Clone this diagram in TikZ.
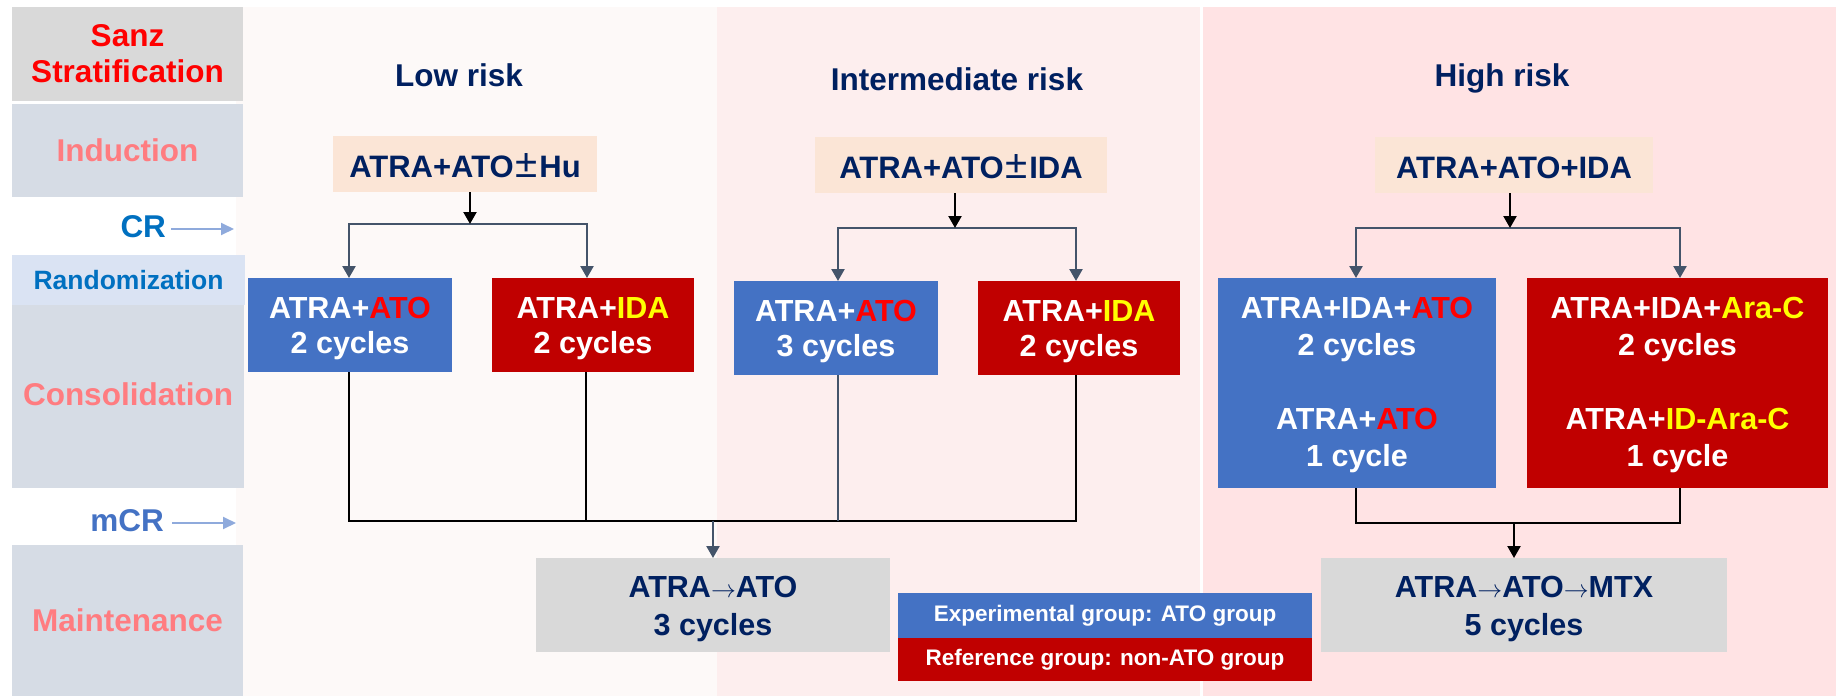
\documentclass[tikz,border=0pt]{standalone}
\usepackage{fontspec}
\usepackage{graphicx}
\setmainfont{Liberation Sans}
\usetikzlibrary{arrows.meta}
\definecolor{navy}{HTML}{002060}
\definecolor{boxblue}{HTML}{4472C4}
\definecolor{boxred}{HTML}{C00000}
\definecolor{brightred}{HTML}{FF0000}
\definecolor{brightyellow}{HTML}{FFFF00}
\definecolor{indfill}{HTML}{FBE5D6}
\definecolor{maintfill}{HTML}{D9D9D9}
\definecolor{colfill}{HTML}{D6DCE5}
\definecolor{randfill}{HTML}{DAE3F3}
\definecolor{salmon}{HTML}{FF7C80}
\definecolor{crblue}{HTML}{0070C0}
\definecolor{mcrblue}{HTML}{4472C4}
\definecolor{slate}{HTML}{44546A}
\definecolor{lightarrow}{HTML}{8FAADC}
\definecolor{panelA}{RGB}{253,249,248}
\definecolor{panelB}{RGB}{253,238,238}
\definecolor{panelC}{RGB}{255,227,228}
\newcommand\fsTitle{\fontsize{31.5}{37}\selectfont\bfseries}
\newcommand\fsInd{\fontsize{31}{36}\selectfont\bfseries}
\newcommand\fsBox{\fontsize{30.5}{35.5}\selectfont\bfseries}
\newcommand\fsHi{\fontsize{30.5}{37}\selectfont\bfseries}
\newcommand\fsMnt{\fontsize{30.5}{38}\selectfont\bfseries}
\newcommand\fsRand{\fontsize{26.5}{31}\selectfont\bfseries}
\newcommand\fsLeg{\fontsize{22.5}{27}\selectfont\bfseries}
\newcommand\fsLeft{\fontsize{31.5}{36}\selectfont\bfseries}
\newcommand\pmsign{\hspace{1.5pt}\scalebox{1.3}{\mdseries ±}\hspace{2pt}}
\newcommand\thinarrow{$\rightarrow$}
\newcommand\topstrut[1]{\rule{0pt}{#1}}
\begin{document}
\begin{tikzpicture}[x=1pt,y=-1pt,
  every node/.style={inner sep=0pt, outer sep=0pt},
  colbox/.style={rectangle, font=\fsLeft, align=center},
  indbox/.style={rectangle, fill=indfill, text=navy, font=\fsInd, minimum height=56, text height=26pt, text depth=0pt},
  bluebox/.style={rectangle, fill=boxblue, text=white, font=\fsBox, align=center},
  redbox/.style={rectangle, fill=boxred, text=white, font=\fsBox, align=center},
  mntbox/.style={rectangle, fill=maintfill, text=navy, font=\fsMnt, align=center, minimum height=94},
  titletext/.style={font=\fsTitle, text=navy, anchor=base},
  blk/.style={draw=black, line width=2.2pt},
  blkarr/.style={blk, -{Triangle[width=13pt,length=12pt]}},
  slt/.style={draw=slate, line width=2.4pt},
  sltarr/.style={slt, -{Triangle[width=13pt,length=12pt]}},
  lightarr/.style={draw=lightarrow, line width=2pt, -{Triangle[width=12pt,length=13pt]}}
]
\useasboundingbox (0,0) rectangle (1836,696);
\fill[white] (0,0) rectangle (1836,696);
% risk panels
\fill[panelA] (236,7) rectangle (717,696);
\fill[panelB] (717,7) rectangle (1200,696);
\fill[panelC] (1203,7) rectangle (1836,696);

% left column
\node[colbox, fill=maintfill, minimum width=231, minimum height=94, text=brightred] (sanz) at (127.5,54) {Sanz\\Stratification};
\node[colbox, fill=colfill, minimum width=231, minimum height=93, text=salmon] (indlab) at (127.5,150.5) {\raisebox{-2pt}{Induction}};
\node[colbox, fill=randfill, minimum width=233, minimum height=50, text=crblue, font=\fsRand] (randlab) at (128.5,280) {Randomization};
\node[colbox, fill=colfill, minimum width=232, minimum height=183, text=salmon] (conslab) at (128,396.5) {\raisebox{4.5pt}{Consolidation}};
\node[colbox, fill=colfill, minimum width=231, minimum height=151, text=salmon] (mainlab) at (127.5,620.5) {\raisebox{-4.5pt}{Maintenance}};
\node[font=\fsLeft, text=crblue, anchor=base east] (cr) at (166,237) {CR};
\node[font=\fsLeft, text=mcrblue, anchor=base east] (mcr) at (164,531) {mCR};
\coordinate (crtip) at (234,229);
\coordinate (mcrtip) at (236,523);
\draw[lightarr] (cr.east |- crtip) ++(5,0) -- (crtip);
\draw[lightarr] (mcr.east |- mcrtip) ++(8,0) -- (mcrtip);

% titles
\node[titletext] (lowt) at (459,86) {Low risk};
\node[titletext] (intt) at (957,90) {Intermediate risk};
\node[titletext] (hit) at (1502,86) {High risk};

% induction boxes
\node[indbox, minimum width=264] (lowind) at (465,164) {ATRA+ATO\pmsign Hu};
\node[indbox, minimum width=292] (intind) at (961,165) {ATRA+ATO\pmsign IDA};
\node[indbox, minimum width=278] (hiind) at (1514,165) {ATRA+ATO+IDA};

% consolidation boxes
\node[bluebox, minimum width=204, minimum height=94] (lowato) at (350,325) {\topstrut{28pt}ATRA+\textcolor{brightred}{ATO}\\2 cycles};
\node[redbox, minimum width=202, minimum height=94] (lowida) at (593,325) {\topstrut{28pt}ATRA+\textcolor{brightyellow}{IDA}\\2 cycles};
\node[bluebox, minimum width=204, minimum height=94] (intato) at (836,328) {\topstrut{28pt}ATRA+\textcolor{brightred}{ATO}\\3 cycles};
\node[redbox, minimum width=202, minimum height=94] (intida) at (1079,328) {\topstrut{28pt}ATRA+\textcolor{brightyellow}{IDA}\\2 cycles};
\node[bluebox, font=\fsHi, minimum width=278, minimum height=210] (hiato) at (1357,383) {\topstrut{26pt}ATRA+IDA+\textcolor{brightred}{ATO}\\2 cycles\\[37pt]ATRA+\textcolor{brightred}{ATO}\\1 cycle};
\node[redbox, font=\fsHi, minimum width=301, minimum height=210] (hiarac) at (1677.5,383) {\topstrut{26pt}ATRA+IDA+\textcolor{brightyellow}{Ara-C}\\2 cycles\\[37pt]ATRA+\textcolor{brightyellow}{ID-Ara-C}\\1 cycle};

% maintenance boxes
\node[mntbox, minimum width=354] (m1) at (713,605) {\topstrut{30pt}ATRA\thinarrow ATO\\3 cycles};
\node[mntbox, minimum width=406] (m2) at (1524,605) {\topstrut{30pt}ATRA\thinarrow ATO\thinarrow MTX\\5 cycles};

% legend
\node[rectangle, fill=boxblue, text=white, font=\fsLeg, minimum width=414, minimum height=45] (legexp) at (1105,615.5) {Experimental group: ATO group};
\node[rectangle, fill=boxred, text=white, font=\fsLeg, minimum width=414, minimum height=43] (legref) at (1105,659.5) {Reference group: non-ATO group};

% induction -> randomization branches
\coordinate (lowbar) at (470,224);
\coordinate (lowL) at (349,224);
\coordinate (lowR) at (587,224);
\draw[sltarr] (lowbar) -- (lowL) -- (lowL |- lowato.north);
\draw[sltarr] (lowbar) -- (lowR) -- (lowR |- lowida.north);
\draw[blkarr] (lowind.south -| lowbar) -- (lowbar);

\coordinate (intbar) at (955,228);
\coordinate (intL) at (838,228);
\coordinate (intR) at (1076,228);
\draw[sltarr] (intbar) -- (intL) -- (intL |- intato.north);
\draw[sltarr] (intbar) -- (intR) -- (intR |- intida.north);
\draw[blkarr] (intind.south -| intbar) -- (intbar);

\coordinate (hibar) at (1510,228);
\coordinate (hiL) at (1356,228);
\coordinate (hiR) at (1680,228);
\draw[sltarr] (hibar) -- (hiL) -- (hiL |- hiato.north);
\draw[sltarr] (hibar) -- (hiR) -- (hiR |- hiarac.north);
\draw[blkarr] (hiind.south -| hibar) -- (hibar);

% consolidation -> maintenance
\coordinate (jL) at (349,521);
\coordinate (jB) at (586,521);
\coordinate (jC) at (838,521);
\coordinate (jR) at (1076,521);
\coordinate (jn) at (713,521);
\draw[blk] (lowato.south -| jL) -- (jL) -- (jR) -- (intida.south -| jR);
\draw[blk] (jB |- lowida.south) -- (jB);
\draw[slt] (jC |- intato.south) -- (jC);
\draw[sltarr] (jn) -- (m1.north);

\coordinate (kL) at (1356,523);
\coordinate (kR) at (1680,523);
\coordinate (kn) at (1514,523);
\draw[blk] (hiato.south -| kL) -- (kL) -- (kR) -- (hiarac.south -| kR);
\draw[blkarr] (kn) -- (kn |- m2.north);
\end{tikzpicture}
\end{document}
